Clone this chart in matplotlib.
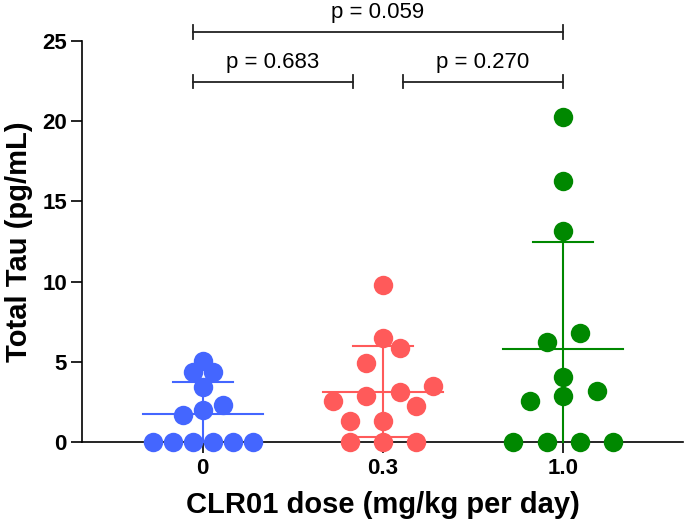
import matplotlib
matplotlib.use("Agg")
import matplotlib.pyplot as plt
import numpy as np

plt.rcParams['font.family'] = ['Liberation Sans', 'DejaVu Sans']

# values (pg/mL)
dose_labels = ['0', '0.3', '1.0']
tau_0 = [0, 0, 0, 0, 0, 0, 1.69, 2.0, 2.31, 3.46, 4.39, 4.39, 5.06]
tau_03 = [0, 0, 0, 1.35, 1.35, 2.25, 2.56, 2.87, 3.15, 3.5, 4.96, 5.85, 6.52, 9.81]
tau_10 = [0, 0, 0, 0, 2.56, 2.87, 3.19, 4.06, 6.25, 6.79, 13.14, 16.27, 20.27]
colors = ['#4466FF', '#FF5A5A', '#008800']

# (group a, group b, label) for the brackets on top
comparisons = [(0, 2, 'p = 0.059'), (0, 1, 'p = 0.683'), (1, 2, 'p = 0.270')]

groups = [tau_0, tau_03, tau_10]

fig = plt.figure(figsize=(6.85, 5.25), dpi=100)
ax = fig.add_axes([0.1201, 0.1575, 0.877, 0.765])
ax.set_xlim(-0.668, 2.664)
ax.set_ylim(0, 25)

# pixels per x data unit, from the axes transform
px_per_x = ax.transData.transform((1, 0))[0] - ax.transData.transform((0, 0))[0]

row_h = 1.2        # bin height in data units (about one dot)
max_span = 100.0   # px, widest row
max_step = 33.5    # px between neighbours

for i, vals in enumerate(groups):
    vals = np.array(vals, dtype=float)
    rows = {}
    for v in sorted(vals):
        rows.setdefault(int(v // row_h), []).append(v)
    biggest = max(len(r) for r in rows.values())
    step = min(max_step, max_span / max(biggest - 1, 1))
    xs, ys = [], []
    for r in rows.values():
        n = len(r)
        for k, v in enumerate(r):
            xs.append(i + (k - (n - 1) / 2) * step / px_per_x)
            ys.append(v)
    ax.plot(xs, ys, 'o', ms=14, color=colors[i], mec='none', clip_on=False, zorder=3)

    m = vals.mean()
    sd = vals.std(ddof=1)
    lo = max(m - sd, 0)
    hi = m + sd
    lw = 1.5
    ax.plot([i - 0.333, i + 0.333], [m, m], color=colors[i], lw=lw, zorder=4)
    ax.plot([i, i], [lo, hi], color=colors[i], lw=lw, zorder=4, clip_on=False)
    ax.plot([i - 0.166, i + 0.166], [hi, hi], color=colors[i], lw=lw, zorder=4)
    if lo > 0:
        ax.plot([i - 0.166, i + 0.166], [lo, lo], color=colors[i], lw=lw, zorder=4)

# significance brackets (drawn above the axis top)
br_y = {(0, 2): 25.55, (0, 1): 22.45, (1, 2): 22.45}
br_x = {(0, 2): (-0.056, 2.0), (0, 1): (-0.056, 0.831), (1, 2): (1.109, 2.0)}
for a, b, txt in comparisons:
    x0, x1 = br_x[(a, b)]
    y = br_y[(a, b)]
    ax.plot([x0, x1], [y, y], color='#222222', lw=1.3, clip_on=False)
    for xe in (x0, x1):
        ax.plot([xe, xe], [y - 0.42, y + 0.42], color='#222222', lw=1.3, clip_on=False)
    ax.annotate(txt, xy=((x0 + x1) / 2, y), xytext=(0, 10), textcoords='offset points',
                ha='center', va='baseline', fontsize=16, annotation_clip=False)

ax.spines['top'].set_visible(False)
ax.spines['right'].set_visible(False)
for s in ('left', 'bottom'):
    ax.spines[s].set_linewidth(1.2)

ax.set_xticks(range(len(dose_labels)))
ax.set_xticklabels(dose_labels)
ax.set_yticks([0, 5, 10, 15, 20, 25])
ax.tick_params(axis='both', length=8, width=1.2, labelsize=16, pad=3)
for lab in ax.get_xticklabels() + ax.get_yticklabels():
    lab.set_fontweight('bold')

ax.set_xlabel('CLR01 dose (mg/kg per day)', fontsize=21, fontweight='bold', labelpad=9)
ax.set_ylabel('Total Tau (pg/mL)', fontsize=21, fontweight='bold', labelpad=7)

fig.savefig('out.png', dpi=100)
